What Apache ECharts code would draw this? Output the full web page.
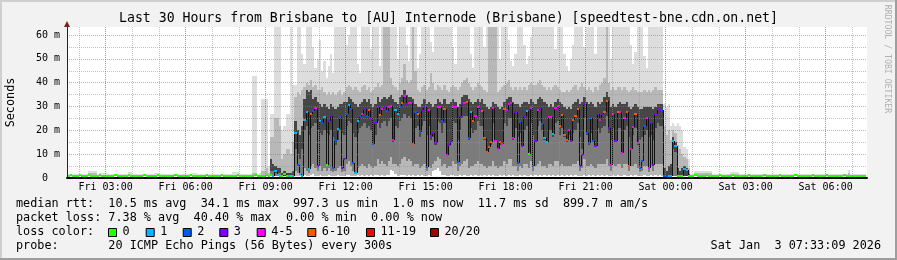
<!DOCTYPE html>
<html><head><meta charset="utf-8">
<script src="https://cdn.jsdelivr.net/npm/echarts@6.0.0/dist/echarts.min.js"></script>
<style>html,body{margin:0;padding:0;background:#f2f2f2}#c{width:897px;height:260px}</style>
</head><body><div id="c"></div>
<script>
// ---- time base (minutes after Fri 00:00) ----
const viewStart = 93.15;   // Fri 01:33:09
const viewEnd = 1893.15;   // Sat 07:33:09
const firstStepEnd = 95;   // first 5-minute step ends Fri 01:35
const stepMinutes = 5;
const hourTicks = [120,180,240,300,360,420,480,540,600,660,720,780,840,900,960,1020,1080,1140,1200,1260,1320,1380,1440,1500,1560,1620,1680,1740,1800,1860];
const majorTicks = [180,360,540,720,900,1080,1260,1440,1620,1800];
const majorLabels = ['Fri 03:00','Fri 06:00','Fri 09:00','Fri 12:00','Fri 15:00','Fri 18:00','Fri 21:00','Sat 00:00','Sat 03:00','Sat 06:00'];
const yMajor = [0,10,20,30,40,50,60];
const yMinor = [5,15,25,35,45,55];
const yMax = 63.36;

// ---- median rtt per step (ms) ----
const median = [
1.0,1.0,1.1,1.0,1.0,1.0,1.1,1.0,1.0,1.0,
1.1,1.0,1.0,1.0,1.0,1.1,1.0,1.0,1.0,1.0,
1.0,1.0,1.1,1.0,1.0,1.0,1.0,1.0,1.1,1.0,
1.0,1.0,1.0,1.0,1.0,1.1,1.0,1.0,1.0,1.0,
1.0,1.1,1.0,1.0,1.0,1.0,1.0,1.0,1.0,1.1,
1.0,1.0,1.0,1.0,1.0,1.0,1.1,1.0,1.0,1.0,
1.0,1.0,1.0,1.1,1.0,1.0,1.0,1.0,1.0,1.0,
1.1,1.0,1.0,1.0,1.0,1.0,1.0,1.1,1.0,1.0,
1.0,1.0,1.0,1.0,1.0,1.1,1.0,1.0,1.0,1.0,
1.1,0.9,1.2,1.0,3.0,1.2,1.0,1.0,1.5,1.0,
1.0,1.0,0.9,18.9,5.6,1.5,1.0,24.5,27.7,3.9,
26.9,28.0,29.4,5.0,24.0,23.0,25.5,5.6,24.0,26.0,
4.2,16.0,20.5,25.5,4.2,8.1,27.0,30.8,29.0,6.3,
2.0,24.0,26.0,27.0,29.0,26.0,28.5,25.0,14.3,23.0,
30.0,26.3,29.0,29.7,28.0,30.0,30.3,16.0,28.5,27.0,
30.0,31.5,34.3,31.0,31.5,31.5,14.3,27.5,27.0,19.3,
28.5,30.0,4.6,28.5,17.5,19.0,14.7,29.7,29.7,24.0,
29.0,9.8,14.0,15.0,30.0,29.7,6.7,26.0,31.0,31.5,
32.0,16.8,27.5,24.0,26.0,30.0,28.5,28.0,16.8,10.9,
13.0,15.0,29.4,15.5,12.3,15.0,14.3,29.0,28.5,31.0,
31.5,16.8,27.5,6.3,23.5,13.5,26.0,28.0,10.0,29.2,
5.0,15.5,28.5,29.4,22.5,16.8,15.0,25.5,25.5,18.5,
29.4,30.3,22.0,26.5,18.0,15.8,20.0,15.6,24.5,26.0,
29.0,5.0,9.8,31.0,19.0,14.7,25.0,15.5,13.6,27.0,
24.5,27.0,27.5,32.4,21.0,5.6,27.0,15.5,27.5,27.5,
10.5,25.0,27.5,5.2,12.3,21.5,27.0,14.7,4.2,7.3,
22.0,25.0,4.2,23.0,5.6,27.0,29.0,28.5,28.5,0.8,
0.6,0.8,0.8,15.5,13.6,1.0,1.0,1.0,3.9,3.5,
1.0,1.0,1.0,1.1,1.0,1.0,1.0,1.0,1.1,1.0,
1.0,1.0,1.0,1.0,1.1,1.0,1.0,1.0,1.0,1.0,
1.1,1.0,1.0,1.0,1.0,1.0,1.0,1.1,1.0,1.0,
1.0,1.0,1.0,1.0,1.1,1.0,1.0,1.0,1.0,1.0,
1.0,1.1,1.0,1.0,1.0,1.0,1.0,1.0,1.1,1.0,
1.0,1.0,1.0,1.0,1.0,1.0,1.1,1.0,1.0,1.0,
1.0,1.0,1.1,1.0,1.0,1.0,1.0,1.0,1.0,1.0,
1.1,1.0,1.0,1.0,1.0,1.0,1.0,1.0,1.0,1.0
];
// ---- lost pings (of 20) per step ----
const loss = [
0,0,0,0,0,0,0,0,0,0, 0,0,0,0,0,0,0,0,0,0, 0,0,0,0,0,0,0,0,0,0,
0,0,0,0,0,0,0,0,0,0, 0,0,0,0,0,0,0,0,0,0, 0,0,0,0,0,0,0,0,0,0,
0,0,0,0,0,0,0,0,0,0, 0,0,0,0,0,0,0,0,0,0, 0,0,0,0,0,0,0,0,0,0,
0,0,0,1,1,1,0,0,0,0,
1,0,1,1,2,1,1,1,1,1,
7,2,4,3,1,2,1,0,3,3,
2,2,1,2,3,3,2,1,2,2,
1,1,2,4,3,2,7,3,2,3,
3,7,4,3,2,4,4,4,1,1,
2,8,4,3,4,4,7,2,7,2,
3,3,2,4,3,3,3,4,4,2,
7,4,3,3,4,4,2,3,3,4,
7,2,1,7,4,4,3,7,7,8,
7,7,4,4,4,7,4,7,4,4,
4,4,3,2,2,3,3,1,0,4,
2,3,4,3,2,1,1,4,4,1,
4,4,7,7,7,7,4,3,7,7,
7,3,3,3,2,2,2,2,3,3,
4,3,7,7,3,4,4,3,7,4,
4,4,7,7,4,4,7,4,2,2,
2,4,4,3,3,3,3,3,2,2,
2,1,1,1,1,0,0,0,1,1,
0,0,0,0,0,0,0,0,0,0, 0,0,0,0,0,0,0,0,0,0, 0,0,0,0,0,0,0,0,0,0,
0,0,0,0,0,0,0,0,0,0, 0,0,0,0,0,0,0,0,0,0, 0,0,0,0,0,0,0,0,0,0,
0,0,0,0,0,0,0,0,0,0, 0,0,0,0,0,0,0,0,0,0
];
// ---- smoke: fastest ping, inner band low, densest band low, inner band high, 90th pct, slowest ping (ms) ----
const pingMin = [
0.9,0.9,0.9,0.9,0.9,0.9,0.9,0.9,0.9,0.9, 0.9,0.9,0.9,0.9,0.9,0.9,0.9,0.9,0.9,0.9,
0.9,0.9,0.9,0.9,0.9,0.9,0.9,0.9,0.9,0.9, 0.9,0.9,0.9,0.9,0.9,0.9,0.9,0.9,0.9,0.9,
0.9,0.9,0.9,0.9,0.9,0.9,0.9,0.9,0.9,0.9, 0.9,0.9,0.9,0.9,0.9,0.9,0.9,0.9,0.9,0.9,
0.9,0.9,0.9,0.9,0.9,0.9,0.9,0.9,0.9,0.9, 0.9,0.9,0.9,0.9,0.9,0.9,0.9,0.9,0.9,0.9,
0.9,0.9,0.9,0.9,0.9,0.9,0.9,0.9,0.9,0.9,
0.9,0.9,0.8,0.8,0.9,0.9,0.9,0.9,0.9,0.9,
0.9,0.9,0.8,1.0,1.0,0.9,0.9,1.2,1.0,1.0,
1.1,1.5,1.0,1.0,1.2,1.0,1.0,0.9,1.1,1.0,
0.9,1.0,1.2,1.0,0.9,1.0,1.3,1.1,1.0,1.0,
0.9,1.1,1.0,1.2,1.0,1.3,1.0,1.1,1.0,1.2,
1.4,1.0,1.2,1.0,1.3,1.1,3.5,3.0,1.5,1.0,
1.2,1.1,1.4,1.0,1.2,1.0,1.1,1.0,1.3,1.0,
1.1,1.0,0.9,1.2,1.0,3.0,3.5,4.0,3.0,1.2,
1.1,1.0,1.0,1.2,1.1,1.0,1.0,1.1,1.0,1.2,
1.0,1.0,1.1,1.0,1.2,1.0,1.3,1.0,1.1,1.0,
1.2,1.0,1.1,1.0,1.0,1.2,1.0,1.1,1.0,1.2,
1.0,1.1,1.0,0.9,1.1,1.0,1.2,1.0,1.0,1.2,
1.0,1.1,1.0,1.2,1.0,1.1,1.0,1.2,1.0,1.1,
1.0,1.2,1.0,1.1,1.0,1.2,1.0,1.1,1.0,1.1,
1.0,0.9,1.0,1.2,1.0,1.1,1.0,1.2,1.0,1.1,
1.0,1.2,1.0,1.1,1.0,0.9,1.2,1.0,1.1,1.0,
1.0,1.2,1.0,0.9,1.1,1.0,1.2,1.0,0.9,1.0,
1.1,1.0,0.9,1.1,1.0,1.2,1.0,1.1,1.0,0.7,
0.6,0.7,0.7,0.8,0.8,0.8,0.8,0.8,0.8,0.8,
0.8,0.9,0.9,0.9,0.9,0.9,0.9,0.9,0.9,0.9,
0.9,0.9,0.9,0.9,0.9,0.9,0.9,0.9,0.9,0.9, 0.9,0.9,0.9,0.9,0.9,0.9,0.9,0.9,0.9,0.9,
0.9,0.9,0.9,0.9,0.9,0.9,0.9,0.9,0.9,0.9, 0.9,0.9,0.9,0.9,0.9,0.9,0.9,0.9,0.9,0.9,
0.9,0.9,0.9,0.9,0.9,0.9,0.9,0.9,0.9,0.9, 0.9,0.9,0.9,0.9,0.9,0.9,0.9,0.9,0.9,0.9,
0.9,0.9,0.9,0.9,0.9,0.9,0.9,0.9,0.9,0.9
];
const pingLo = [
0.95,0.95,0.95,0.95,0.95,0.95,0.95,0.95,0.95,0.95, 0.95,0.95,0.95,0.95,0.95,0.95,0.95,0.95,0.95,0.95,
0.95,0.95,0.95,0.95,0.95,0.95,0.95,0.95,0.95,0.95, 0.95,0.95,0.95,0.95,0.95,0.95,0.95,0.95,0.95,0.95,
0.95,0.95,0.95,0.95,0.95,0.95,0.95,0.95,0.95,0.95, 0.95,0.95,0.95,0.95,0.95,0.95,0.95,0.95,0.95,0.95,
0.95,0.95,0.95,0.95,0.95,0.95,0.95,0.95,0.95,0.95, 0.95,0.95,0.95,0.95,0.95,0.95,0.95,0.95,0.95,0.95,
0.95,0.95,0.95,0.95,0.95,0.95,0.95,0.95,0.95,0.95,
1.0,0.95,0.9,0.9,1.0,1.0,1.0,0.95,1.0,0.95,
0.95,0.95,0.9,3,2,1.2,1.0,4,3,2,
5,6,4,3,5,3,4,3,4,3,
2.5,3,4,5,2.5,3,6,7,5,3,
1.5,4,5,6,5,4,6,5,4,5,
8,6,7,6,5,7,9,6,6,5,
6,8,9,7,8,7,5,6,6,4,
5,6,3,5,4,6,7,9,8,5,
6,4,5,5,7,6,3,5,6,7,
8,4,5,5,6,7,6,6,5,4,
5,5,7,5,4,5,5,7,6,8,
8,5,5,3,5,4,6,6,4,7,
3,5,6,7,5,5,4,6,6,5,
7,7,5,6,5,5,5,5,6,6,
7,3,4,8,5,5,6,5,4,6,
6,6,6,8,5,3,6,5,6,6,
4,6,6,3,5,5,6,4,2.5,3,
5,5,2.5,5,3,6,6,6,6,0.8,
0.7,0.8,0.8,1.0,1.0,0.9,0.9,0.9,1.0,1.0,
0.9,0.95,0.95,0.95,0.95,0.95,0.95,0.95,0.95,0.95,
0.95,0.95,0.95,0.95,0.95,0.95,0.95,0.95,0.95,0.95, 0.95,0.95,0.95,0.95,0.95,0.95,0.95,0.95,0.95,0.95,
0.95,0.95,0.95,0.95,0.95,0.95,0.95,0.95,0.95,0.95, 0.95,0.95,0.95,0.95,0.95,0.95,0.95,0.95,0.95,0.95,
0.95,0.95,0.95,0.95,0.95,0.95,0.95,0.95,0.95,0.95, 0.95,0.95,0.95,0.95,0.95,0.95,0.95,0.95,0.95,0.95,
0.95,0.95,0.95,0.95,0.95,0.95,0.95,0.95,0.95,0.95
];
const pingDense = [
1.0,1.0,1.0,1.0,1.0,1.0,1.0,1.0,1.0,1.0, 1.0,1.0,1.0,1.0,1.0,1.0,1.0,1.0,1.0,1.0,
1.0,1.0,1.0,1.0,1.0,1.0,1.0,1.0,1.0,1.0, 1.0,1.0,1.0,1.0,1.0,1.0,1.0,1.0,1.0,1.0,
1.0,1.0,1.0,1.0,1.0,1.0,1.0,1.0,1.0,1.0, 1.0,1.0,1.0,1.0,1.0,1.0,1.0,1.0,1.0,1.0,
1.0,1.0,1.0,1.0,1.0,1.0,1.0,1.0,1.0,1.0, 1.0,1.0,1.0,1.0,1.0,1.0,1.0,1.0,1.0,1.0,
1.0,1.0,1.0,1.0,1.0,1.0,1.0,1.0,1.0,1.0,
1.0,1.0,3,3,2,2,2,1.0,1.0,1.0,
1.0,1.0,1.0,12,10,8,12,20,22,18,
21,22,23,20,19,18,20,19,18,20,
17,14,16,20,19,18,22,24,23,19,
17,19,21,22,23,21,22,20,14,18,
24,21,23,24,22,24,25,15,22,21,
24,25,27,25,26,25,14,21,22,17,
22,24,18,22,16,17,14,24,23,19,
23,10,14,15,24,23,16,20,25,26,
26,16,21,19,20,24,22,22,16,11,
12,14,23,15,12,14,14,23,22,25,
25,16,21,17,19,13,20,22,11,23,
18,15,22,24,20,16,15,20,20,17,
23,24,18,21,17,15,18,15,19,20,
23,17,12,25,18,14,19,15,13,21,
19,21,22,26,19,16,21,15,21,21,
11,20,22,17,12,18,21,14,16,17,
18,20,17,18,16,21,23,22,22,0.9,
0.8,1.0,1.0,12,11,1.0,1.0,1.0,1.0,1.0,
1.0,1.0,1.0,1.0,1.0,1.0,1.0,1.0,1.0,1.0,
1.0,1.0,1.0,1.0,1.0,1.0,1.0,1.0,1.0,1.0, 1.0,1.0,1.0,1.0,1.0,1.0,1.0,1.0,1.0,1.0,
1.0,1.0,1.0,1.0,1.0,1.0,1.0,1.0,1.0,1.0, 1.0,1.0,1.0,1.0,1.0,1.0,1.0,1.0,1.0,1.0,
1.0,1.0,1.0,1.0,1.0,1.0,1.0,1.0,1.0,1.0, 1.0,1.0,1.0,1.0,1.0,1.0,1.0,1.0,1.0,1.0,
1.0,1.0,1.0,1.0,1.0,1.0,1.0,1.0,1.0,1.0
];
const pingHi = [
1.1,1.1,1.1,1.1,1.1,1.1,1.1,1.1,1.1,1.1, 1.1,1.1,1.1,1.1,1.1,1.1,1.1,1.1,1.1,1.1,
1.1,1.1,1.1,1.1,1.1,1.1,1.1,1.1,1.1,1.1, 1.1,1.1,1.1,1.1,1.1,1.1,1.1,1.1,1.1,1.1,
1.1,1.1,1.1,1.1,1.1,1.1,1.1,1.1,1.1,1.1, 1.1,1.1,1.1,1.1,1.1,1.1,1.1,1.1,1.1,1.1,
1.1,1.1,1.1,1.1,1.1,1.1,1.1,1.1,1.1,1.1, 1.1,1.1,1.1,1.1,1.1,1.1,1.1,1.1,1.1,1.1,
1.1,1.1,1.1,1.1,1.2,1.2,1.1,1.1,1.2,1.2,
1.3,1.1,8,6,5,4,4,2,3,2,
2,2,3,24,20,18,22,33,37,36,
37,33,34,32,31,30,31,30,29,31,
30,29,30,31,31,32,32,34,33,32,
31,30,31,32,33,32,33,31,30,31,
34,32,33,34,33,34,35,33,32,31,
34,35,37,35,34,34,33,31,30,30,
31,33,31,32,31,30,31,33,32,31,
33,31,31,32,33,32,30,31,34,35,
35,33,32,31,32,33,32,33,31,30,
29,30,32,31,30,29,30,32,33,34,
34,32,31,31,30,31,32,32,31,33,
32,31,33,34,33,32,31,30,31,30,
32,33,32,31,30,29,30,29,31,32,
33,31,32,34,32,31,32,31,30,32,
31,32,34,36,34,30,31,30,31,32,
31,31,32,30,29,30,31,30,29,29,
30,30,30,30,29,30,31,31,31,4,
3,5,6,17,15,4,3,4,5,4,
1.5,1.1,1.1,1.1,1.1,1.1,1.1,1.1,1.1,1.1,
1.1,1.1,1.1,1.1,1.1,1.1,1.1,1.1,1.1,1.1, 1.1,1.1,1.1,1.1,1.1,1.1,1.1,1.1,1.1,1.1,
1.1,1.1,1.1,1.1,1.1,1.1,1.1,1.1,1.1,1.1, 1.1,1.1,1.1,1.1,1.1,1.1,1.1,1.1,1.1,1.1,
1.1,1.1,1.1,1.1,1.1,1.1,1.1,1.1,1.1,1.1, 1.1,1.1,1.1,1.1,1.1,1.1,1.1,1.1,1.1,1.1,
1.1,1.1,1.1,1.1,1.1,1.1,1.1,1.1,1.1,1.1
];
const pingP90 = [
1.3,1.3,1.3,1.3,1.3,1.3,1.3,1.3,1.3,1.3, 2.0,2.0,2.0,2.0,1.3,1.3,1.3,1.3,1.3,1.3,
1.3,1.3,1.3,1.3,1.3,1.3,1.3,1.3,1.3,1.3, 1.3,1.3,1.3,1.3,1.3,1.3,1.3,1.3,1.3,1.3,
1.3,1.3,1.3,1.3,1.3,1.3,1.3,1.3,1.3,1.3, 1.3,1.3,1.3,1.3,1.3,1.3,1.3,1.3,1.3,1.3,
1.3,1.3,1.3,1.3,1.3,1.3,1.3,1.3,1.3,1.3, 1.3,1.3,1.3,1.3,1.3,1.3,1.3,1.3,1.3,1.3,
1.3,1.3,1.3,1.3,2,2,1.3,1.3,3,3,
4,2,17,17,25,25,22,8,10,12,
12,10,15,34,36,35,37,38,40,39,
41,38,39,37,37,38,36,35,36,35,
36,35,36,37,35,36,38,39,38,37,
38,37,36,38,39,37,38,36,37,38,
40,38,39,66,66,66,42,39,38,37,
40,42,48,41,40,41,66,45,37,36,
38,39,37,38,44,40,37,39,38,37,
39,37,36,38,39,38,37,38,40,41,
42,40,38,37,38,40,39,38,37,36,
66,66,66,66,36,37,38,39,40,41,
38,37,38,37,38,37,38,37,39,40,
39,39,40,41,39,38,37,38,37,38,
39,38,37,36,36,37,36,37,38,39,
37,38,40,38,37,38,37,36,38,37,
39,40,42,66,40,37,38,37,38,38,
37,38,37,36,37,38,37,36,36,36,
37,36,37,36,37,38,37,37,37,22,
18,20,16,20,19,14,12,10,9,8,
4,1.3,1.3,2.0,2.0,2.0,2.0,2.0,2.0,2.0,
2.0,1.3,1.3,1.3,1.3,1.3,1.3,1.3,1.3,1.8, 1.8,1.8,1.8,1.3,1.3,1.3,1.3,1.3,1.3,1.3,
1.3,1.3,1.3,1.3,1.3,1.3,1.3,1.3,1.3,1.3, 1.3,1.3,1.3,1.3,1.3,1.3,1.3,1.3,1.3,1.3,
1.3,1.3,1.3,1.3,1.3,1.3,1.3,1.3,1.3,1.3, 1.3,1.3,1.3,1.3,1.3,1.3,1.3,1.3,1.3,1.3,
1.3,1.3,2.0,1.3,1.3,1.3,1.3,1.3,1.3,1.3
];
const pingMax = [
1.8,1.8,1.8,1.8,1.8,1.8,1.5,1.5,1.5,1.5,
3.0,3.0,3.0,3.0,1.5,2.2,2.2,2.2,2.2,1.5,
1.5,1.5,1.5,1.5,1.5,1.5,1.5,1.5,2.5,2.5,
1.5,1.5,1.5,1.5,1.5,1.5,1.5,1.5,1.5,1.5,
2.0,2.0,1.5,1.5,1.5,1.5,1.5,1.5,1.5,1.5,
1.5,1.5,1.5,1.5,1.5,1.5,1.5,2.3,2.3,1.5,
1.5,1.5,1.5,1.5,1.5,1.5,1.5,1.5,1.5,1.5,
1.5,1.5,1.5,1.5,1.5,2.5,2.5,2.5,1.5,1.5,
1.5,1.5,1.5,1.5,43,43,1.8,2.0,33,33,
33,5,27,27,70,70,70,20,22,27,
27,70,39,39,70,70,52,48,70,70,
70,55,46,50,58,45,49,42,47,52,
44,70,70,70,70,70,56,60,70,70,
70,48,44,70,70,70,70,54,70,70,
70,47,70,70,70,70,70,70,70,50,
70,70,70,56,49,70,70,70,46,52,
70,70,70,70,57,53,70,70,70,70,
70,70,70,70,55,48,70,70,70,70,
70,70,52,46,70,70,70,70,55,70,
70,70,70,70,70,50,70,70,70,58,
49,47,52,70,70,70,56,48,51,59,
70,70,70,70,70,70,70,70,70,70,
54,70,70,70,52,47,45,50,56,70,
70,70,70,55,70,70,70,70,52,70,
70,70,70,70,70,50,70,70,70,70,
70,70,70,70,56,48,53,70,70,70,
51,46,70,70,70,70,70,70,70,31,
30,31,22,23,22,23,22,20,13,12,
8,1.5,1.5,3.0,3.0,3.0,3.0,3.0,3.0,3.0,
3.0,1.5,1.5,1.5,1.5,1.5,1.5,1.5,1.5,2.5,
2.5,2.5,2.5,1.5,1.5,1.5,1.5,1.5,1.5,1.5,
1.5,1.5,1.5,1.5,1.5,1.5,1.5,1.5,1.5,1.5,
1.5,1.5,1.5,1.5,1.5,1.5,1.5,1.5,1.5,1.5,
1.5,1.5,1.5,1.5,1.5,1.5,1.5,1.5,1.5,1.5,
1.5,1.5,1.5,1.5,1.5,1.5,1.5,1.5,1.5,1.5,
1.5,1.5,3.5,1.5,1.5,1.5,1.5,1.5,1.5,1.5
];
// ---- loss colour legend ----
const lossLabels = ['0','1','2','3','4-5','6-10','11-19','20/20'];
const lossUpTo   = [0,1,2,3,5,10,19,20];
const lossColors = ['#26ff00','#00b8ff','#0059ff','#7e00ff','#ff00ff','#ff5500','#ff0000','#a10000'];
const lossBoxX   = [108,145.7,182.7,219.3,256.7,307.3,366,430];
// ---- legend texts ----
const legendRows = [
  'median rtt:  10.5 ms avg  34.1 ms max  997.3 us min  1.0 ms now  11.7 ms sd  899.7 m am/s',
  'packet loss: 7.38 % avg  40.40 % max  0.00 % min  0.00 % now',
  'loss color:',
  'probe:       20 ICMP Echo Pings (56 Bytes) every 300s'
];
const titleText = 'Last 30 Hours from Brisbane to [AU] Internode (Brisbane) [speedtest-bne.cdn.on.net]';
const dateText = 'Sat Jan  3 07:33:09 2026';

const MONO = '"DejaVu Sans Mono", "Liberation Mono", monospace';
function lossColor(n){ for (let k=0;k<lossUpTo.length;k++){ if (n<=lossUpTo[k]) return lossColors[k]; } return lossColors[lossColors.length-1]; }
const stepData = median.map((m,i)=>[firstStepEnd + i*stepMinutes, m, i]);

const chart = echarts.init(document.getElementById('c'), null, {renderer:'canvas', width:897, height:260});

function stepX(api, tEnd){
  const xa = Math.round(api.coord([tEnd - stepMinutes, 0])[0]);
  const xb = Math.round(api.coord([tEnd, 0])[0]);
  return [xa, xb];
}
function yPix(api, tEnd, v){ return Math.round(api.coord([tEnd, Math.min(v, yMax)])[1]); }

const smokeColors = ['#dddddd','#b8b8b8','#7c7c7c','#464646'];
function renderSmoke(params, api){
  const i = api.value(2), t = api.value(0);
  const [xa, xb] = stepX(api, t);
  const bands = [[pingMin[i], pingMax[i]], [pingMin[i], pingP90[i]], [pingLo[i], pingHi[i]], [pingDense[i], pingHi[i]]];
  const children = [];
  bands.forEach((b, k)=>{
    const y1 = yPix(api, t, b[1]), y0 = yPix(api, t, b[0]);
    if (y0 - y1 > 0) children.push({type:'rect', shape:{x:xa, y:y1, width:xb-xa, height:y0-y1}, style:{fill:smokeColors[k]}});
  });
  return {type:'group', children};
}
function renderMedian(params, api){
  const i = api.value(2), t = api.value(0);
  const [xa, xb] = stepX(api, t);
  const y = yPix(api, t, median[i]);
  const children = [];
  if (i > 0) {
    const yp = yPix(api, t, median[i-1]);
    if (Math.abs(yp - y) > 1) children.push({type:'rect', shape:{x:xa, y:Math.min(yp,y), width:1, height:Math.abs(yp-y)}, style:{fill:'#111111'}});
  }
  children.push({type:'rect', shape:{x:xa, y:y-1, width:xb-xa, height:2}, style:{fill:lossColor(loss[i])}});
  return {type:'group', children};
}

const gridStyleMajor = {color:'rgba(222,79,79,0.55)', width:1, type:[1,1]};
const gridStyleMinor = {color:'rgba(143,143,143,0.55)', width:1, type:[1,1]};

const graphics = [
  {type:'rect', shape:{x:0,y:0,width:897,height:2}, style:{fill:'#cfcfcf'}, silent:true},
  {type:'rect', shape:{x:0,y:0,width:2,height:260}, style:{fill:'#cfcfcf'}, silent:true},
  {type:'rect', shape:{x:0,y:258,width:897,height:2}, style:{fill:'#9e9e9e'}, silent:true},
  {type:'rect', shape:{x:895,y:0,width:2,height:260}, style:{fill:'#9e9e9e'}, silent:true},
  {type:'text', x:448.5, y:19, style:{text:titleText, font:'13.2px '+MONO, fill:'#000', align:'center', verticalAlign:'middle'}},
  {type:'text', x:11, y:102.5, rotation:Math.PI/2, style:{text:'Seconds', font:'11.8px '+MONO, fill:'#000', align:'center', verticalAlign:'middle'}},
  {type:'text', x:887.5, y:59, rotation:-Math.PI/2, style:{text:'RRDTOOL / TOBI OETIKER', font:'8.2px '+MONO, fill:'#b0b0b0', align:'center', verticalAlign:'middle'}},
  {type:'polygon', shape:{points:[[64,27],[70,27],[67,21]]}, style:{fill:'#801f1f'}, z:100},
  {type:'text', x:881, y:246, style:{text:dateText, font:'11.8px '+MONO, fill:'#000', align:'right', verticalAlign:'middle'}}
];
legendRows.forEach((row, k)=>{
  graphics.push({type:'text', x:16, y:204 + k*14, style:{text:row, font:'11.8px '+MONO, fill:'#000', align:'left', verticalAlign:'middle'}});
});
lossLabels.forEach((lab, k)=>{
  graphics.push({type:'rect', shape:{x:lossBoxX[k]+0.5, y:228.5, width:8, height:8}, style:{fill:lossColors[k], stroke:'#000', lineWidth:1}});
  graphics.push({type:'text', x:lossBoxX[k]+14.5, y:232, style:{text:lab, font:'11.8px '+MONO, fill:'#000', align:'left', verticalAlign:'middle'}});
});

const option = {
  animation:false,
  backgroundColor:'#f2f2f2',
  grid:{left:67, top:27, width:800, height:151, show:true, backgroundColor:'#ffffff', borderWidth:0},
  xAxis:[
    {type:'value', min:viewStart, max:viewEnd, z:11,
     axisLine:{show:true, onZero:false, lineStyle:{color:'#000', width:2}},
     axisTick:{show:false, customValues:majorTicks},
     axisLabel:{customValues:majorTicks, formatter:(v)=>majorLabels[majorTicks.indexOf(Math.round(v))]||'', fontFamily:MONO, fontSize:10, color:'#000', margin:4, hideOverlap:false},
     splitLine:{show:true, lineStyle:gridStyleMajor}},
    {type:'value', min:viewStart, max:viewEnd, z:10,
     axisLine:{show:false}, axisTick:{show:false, customValues:hourTicks}, axisLabel:{show:false},
     splitLine:{show:true, lineStyle:gridStyleMinor}}
  ],
  yAxis:[
    {type:'value', min:0, max:yMax, z:11,
     axisLine:{show:true, onZero:false, lineStyle:{color:'#222', width:1}},
     axisTick:{show:false, customValues:yMajor},
     axisLabel:{customValues:yMajor, formatter:(v)=> v===0 ? '0  ' : (v+' m'), fontFamily:MONO, fontSize:10, color:'#000', margin:7},
     splitLine:{show:true, lineStyle:gridStyleMajor}},
    {type:'value', min:0, max:yMax, z:10,
     axisLine:{show:false}, axisTick:{show:false, customValues:yMinor}, axisLabel:{show:false},
     splitLine:{show:true, lineStyle:gridStyleMinor}}
  ],
  series:[
    {type:'custom', name:'smoke', xAxisIndex:0, yAxisIndex:0, renderItem:renderSmoke, data:stepData, clip:true, z:2, silent:true},
    {type:'custom', name:'median', xAxisIndex:0, yAxisIndex:0, renderItem:renderMedian, data:stepData, clip:true, z:3, silent:true}
  ],
  graphic:graphics
};
chart.setOption(option);
</script></body></html>
